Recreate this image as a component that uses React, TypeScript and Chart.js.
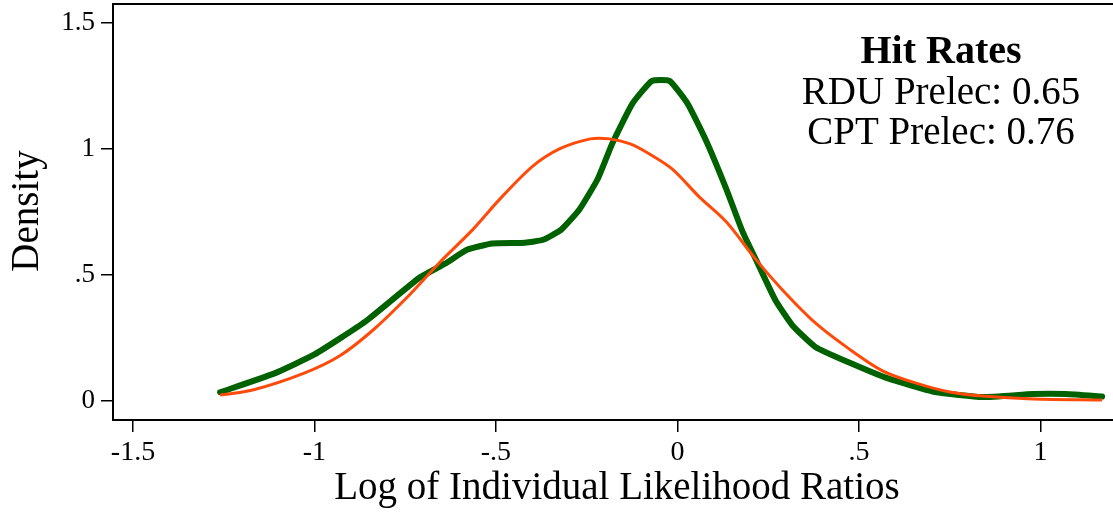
import React, { useEffect, useRef } from "react";
import { Chart, registerables } from "chart.js";

Chart.register(...registerables);

const greenX = [-1.26, -1.11, -1.0, -0.86, -0.71, -0.64, -0.58, -0.51, -0.42, -0.37, -0.32, -0.27, -0.22, -0.18, -0.124, -0.07, -0.022, 0.028, 0.08, 0.135, 0.18, 0.22, 0.27, 0.317, 0.38, 0.47, 0.58, 0.71, 0.84, 0.98, 1.07, 1.17];
const greenY = [0.035, 0.11, 0.185, 0.315, 0.49, 0.545, 0.6, 0.625, 0.628, 0.64, 0.68, 0.76, 0.88, 1.02, 1.18, 1.27, 1.27, 1.18, 1.03, 0.84, 0.67, 0.55, 0.4, 0.3, 0.215, 0.155, 0.09, 0.036, 0.016, 0.028, 0.028, 0.018];

const orangeX = [-1.26, -1.17, -1.03, -0.93, -0.84, -0.746, -0.655, -0.564, -0.49, -0.4, -0.325, -0.24, -0.187, -0.13, -0.077, -0.014, 0.06, 0.135, 0.217, 0.29, 0.38, 0.47, 0.565, 0.66, 0.75, 0.84, 0.98, 1.17];
const orangeY = [0.024, 0.044, 0.11, 0.18, 0.28, 0.41, 0.55, 0.68, 0.8, 0.93, 1.0, 1.04, 1.04, 1.02, 0.98, 0.92, 0.81, 0.71, 0.56, 0.44, 0.31, 0.21, 0.12, 0.07, 0.036, 0.02, 0.008, 0.004];

const xTickValues = [-1.5, -1, -0.5, 0, 0.5, 1];
const xTickLabels = ["-1.5", "-1", "-.5", "0", ".5", "1"];
const yTickValues = [0, 0.5, 1, 1.5];
const yTickLabels = ["0", ".5", "1", "1.5"];

const xTitle = "Log of Individual Likelihood Ratios";
const yTitle = "Density";
const noteTitle = "Hit Rates";
const noteLines = ["RDU Prelec: 0.65", "CPT Prelec: 0.76"];

const FONT = "'Liberation Serif', 'DejaVu Serif', serif";

export default function App() {
  const ref = useRef<HTMLCanvasElement | null>(null);

  useEffect(() => {
    document.body.style.margin = "0";
    const canvas = ref.current;
    if (!canvas) return;

    const textPlugin = {
      id: "texts",
      afterDraw(chart: any) {
        const { ctx, chartArea } = chart;
        ctx.save();
        // top frame line
        ctx.strokeStyle = "#000";
        ctx.lineWidth = 2;
        ctx.beginPath();
        ctx.moveTo(chartArea.left, chartArea.top);
        ctx.lineTo(chartArea.right, chartArea.top);
        ctx.stroke();

        ctx.fillStyle = "#000";
        ctx.textAlign = "center";
        ctx.textBaseline = "middle";
        ctx.font = `39px ${FONT}`;
        ctx.fillText(xTitle, 617, 489);

        ctx.save();
        ctx.translate(28, 211);
        ctx.rotate(-Math.PI / 2);
        ctx.fillText(yTitle, 0, 0);
        ctx.restore();

        ctx.font = `bold 40px ${FONT}`;
        ctx.fillText(noteTitle, 941, 53);
        ctx.font = `39px ${FONT}`;
        ctx.fillText(noteLines[0], 941, 94);
        ctx.fillText(noteLines[1], 941, 134);
        ctx.restore();
      },
    };

    const chart = new Chart(canvas, {
      type: "line",
      data: {
        datasets: [
          {
            label: "CPT",
            data: orangeX.map((x, i) => ({ x, y: orangeY[i] })),
            borderColor: "#FF4A0A",
            borderWidth: 3,
            pointRadius: 0,
            tension: 0.3,
            fill: false,
          },
          {
            label: "RDU",
            data: greenX.map((x, i) => ({ x, y: greenY[i] })),
            borderColor: "#006100",
            borderWidth: 6,
            pointRadius: 0,
            tension: 0.15,
            fill: false,
            borderJoinStyle: "round",
            borderCapStyle: "round",
          },
        ],
      },
      options: {
        responsive: false,
        animation: false,
        layout: { padding: { top: 4, right: 0, left: 0, bottom: 0 } },
        plugins: { legend: { display: false }, tooltip: { enabled: false } },
        scales: {
          x: {
            type: "linear",
            min: -1.555,
            max: 1.2,
            afterFit: (s: any) => {
              s.height = 92;
              s.paddingLeft = 0;
              s.paddingRight = 0;
            },
            afterBuildTicks: (s: any) => {
              s.ticks = xTickValues.map((v) => ({ value: v }));
            },
            grid: { drawOnChartArea: false, drawTicks: true, tickLength: 12, color: "#000", lineWidth: 1.5 },
            border: { display: true, color: "#000", width: 2 },
            ticks: {
              color: "#000",
              font: { family: FONT, size: 28 },
              padding: 4,
              maxRotation: 0,
              autoSkip: false,
              callback: (v: any) => {
                const i = xTickValues.indexOf(Number(v));
                return i >= 0 ? xTickLabels[i] : "";
              },
            },
          },
          y: {
            type: "linear",
            min: -0.075,
            max: 1.575,
            afterFit: (s: any) => {
              s.width = 113;
              s.paddingTop = 0;
              s.paddingBottom = 0;
            },
            afterBuildTicks: (s: any) => {
              s.ticks = yTickValues.map((v) => ({ value: v }));
            },
            grid: { drawOnChartArea: false, drawTicks: true, tickLength: 12, color: "#000", lineWidth: 1.5 },
            border: { display: true, color: "#000", width: 2 },
            ticks: {
              color: "#000",
              font: { family: FONT, size: 27 },
              padding: 6,
              autoSkip: false,
              callback: (v: any) => {
                const i = yTickValues.indexOf(Number(v));
                return i >= 0 ? yTickLabels[i] : "";
              },
            },
          },
        },
      },
      plugins: [textPlugin],
    });

    return () => chart.destroy();
  }, []);

  return (
    <div style={{ position: "absolute", left: 0, top: 0, width: 1113, height: 512, background: "#fff" }}>
      <canvas ref={ref} width={1113} height={512} />
    </div>
  );
}
